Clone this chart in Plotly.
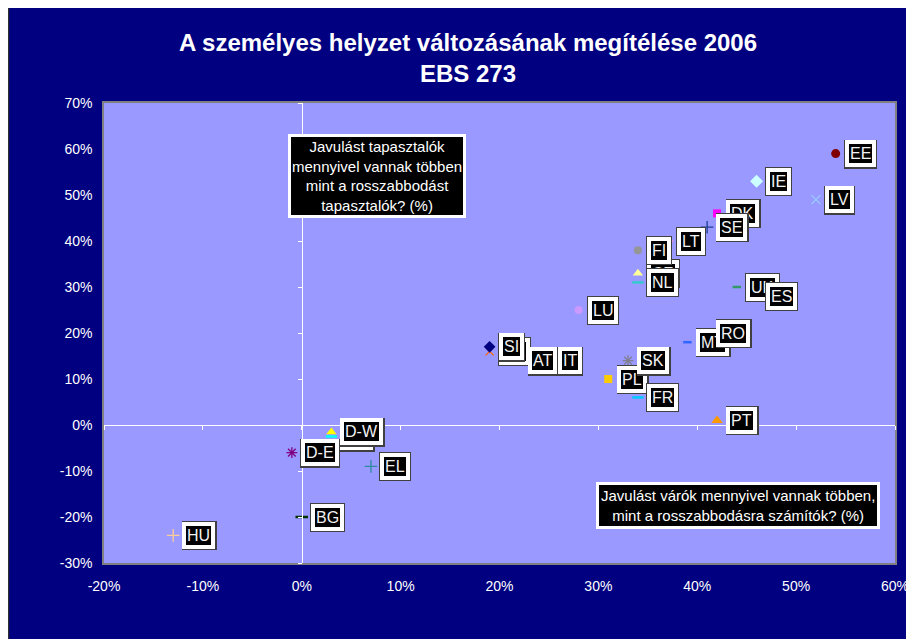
import plotly.graph_objects as go

# ---------------- data ----------------
countries = ["BE", "CZ", "CY", "DK", "SE", "EE", "IE", "LV", "LT", "FI", "NL", "LU",
             "SI", "AT", "IT", "PL", "SK", "FR", "MT", "RO", "UK", "ES", "PT",
             "D-W", "D-E", "EL", "BG", "HU"]
expect_balance = [19, 34, 3, 42, 41, 54, 46, 52, 37, 34, 34, 28,
                  19, 22, 25, 31, 33, 34, 39, 41, 44, 46, 42,
                  3, -1, 7, 0, -13]
experience_balance = [16, 33, -2.5, 46, 43, 59, 53, 49, 40, 38, 31, 25,
                      17, 14, 14, 10, 14, 6, 18, 20, 30, 28, 1,
                      -1.5, -6, -9, -20, -24]

x_ticks = [-20, -10, 0, 10, 20, 30, 40, 50, 60]
x_tick_labels = ["-20%", "-10%", "0%", "10%", "20%", "30%", "40%", "50%", "60%"]
y_ticks = [-30, -20, -10, 0, 10, 20, 30, 40, 50, 60, 70]
y_tick_labels = ["-30%", "-20%", "-10%", "0%", "10%", "20%", "30%", "40%", "50%", "60%", "70%"]

title_text = "A személyes helyzet változásának megítélése 2006<br>EBS 273"
note_top = "Javulást tapasztalók<br>mennyivel vannak többen<br>mint a rosszabbodást<br>tapasztalók? (%)"
note_bottom = "Javulást várók mennyivel vannak többen,<br>mint a rosszabbodásra számítók? (%)"

# ---------------- styles ----------------
marker_style = {
    "BE": ("x-thin-open", "#FF6600", 8),
    "CZ": ("triangle-up", "#FFFF99", 9),
    "CY": ("line-ew-open", "#00FFFF", 8),
    "DK": ("square", "#FF00FF", 8),
    "SE": ("cross-thin-open", "#1F3F8F", 9),
    "EE": ("circle", "#800000", 9),
    "IE": ("diamond", "#CCFFFF", 10),
    "LV": ("x-thin-open", "#99CCFF", 9),
    "LT": ("asterisk-open", "#FF99CC", 9),
    "FI": ("circle", "#969696", 8),
    "NL": ("line-ew-open", "#33CCCC", 8),
    "LU": ("circle", "#CC99FF", 8),
    "SI": ("diamond", "#000080", 9),
    "AT": ("triangle-up", "#99CC00", 9),
    "IT": ("circle", "#666699", 8),
    "PL": ("square", "#FFCC00", 8),
    "SK": ("asterisk-open", "#808090", 9),
    "FR": ("line-ew-open", "#00CCFF", 8),
    "MT": ("line-ew-open", "#3366FF", 6),
    "RO": ("circle", "#993366", 8),
    "UK": ("line-ew-open", "#339966", 6),
    "ES": ("circle", "#FF0000", 8),
    "PT": ("triangle-up", "#FF9900", 10),
    "D-W": ("triangle-up", "#FFFF00", 9),
    "D-E": ("asterisk-open", "#800080", 9),
    "EL": ("cross-thin-open", "#2E8B9F", 9),
    "BG": ("line-ew-open", "#003300", 9),
    "HU": ("cross-thin-open", "#FFCC99", 9),
}

FONT = "Liberation Sans, Arial, sans-serif"
# the page body adds an 8px offset; plot area in figure pixels
X0, X1, Y0, Y1 = 96, 887, 95, 555
W, H = 914, 639


def px_x(px):
    return (px - X0) / (X1 - X0)


def px_y(py):
    return (Y1 - py) / (Y1 - Y0)


fig = go.Figure()

for c, xv, yv in zip(countries, expect_balance, experience_balance):
    sym, col, size = marker_style[c]
    lw = 2.5 if sym.startswith("line") else (1.3 if "open" in sym else 0)
    fig.add_trace(go.Scatter(
        x=[xv], y=[yv], mode="markers", name=c, showlegend=False,
        marker=dict(symbol=sym, color=col, size=size,
                    line=dict(color=col, width=lw)),
        hoverinfo="skip"))

# dummy trace for the crossing axes
fig.add_trace(go.Scatter(x=[None], y=[None], xaxis="x2", yaxis="y2",
                         showlegend=False, hoverinfo="skip"))

annotations = []
for c, xv, yv in zip(countries, expect_balance, experience_balance):
    annotations.append(dict(
        x=xv, y=yv, xref="x", yref="y", text=c, showarrow=False,
        xanchor="left", yanchor="middle", xshift=8.5, yshift=-0.5,
        font=dict(family=FONT, size=16, color="#404040"),
        bgcolor="#404040", bordercolor="#404040", borderwidth=5, borderpad=1))
    annotations.append(dict(
        x=xv, y=yv, xref="x", yref="y", text=c, showarrow=False,
        xanchor="left", yanchor="middle", xshift=9,
        font=dict(family=FONT, size=16, color="#F2F2F2"),
        bgcolor="black", bordercolor="white", borderwidth=4, borderpad=1))

annotations.append(dict(
    x=px_x(376.5 - 8), y=px_y(175.5 - 8), xref="paper", yref="paper", text=note_top,
    showarrow=False, xanchor="center", yanchor="middle", align="center",
    font=dict(family=FONT, size=15, color="white"),
    bgcolor="black", bordercolor="white", borderwidth=3, borderpad=1))
annotations.append(dict(
    x=px_x(738 - 8), y=px_y(505 - 8), xref="paper", yref="paper", text=note_bottom,
    showarrow=False, xanchor="center", yanchor="middle", align="center",
    font=dict(family=FONT, size=15, color="white"),
    bgcolor="black", bordercolor="white", borderwidth=3, borderpad=2))

shapes = [
    dict(type="line", xref="paper", yref="paper", x0=px_x(0.5), x1=px_x(0.5),
         y0=px_y(H), y1=px_y(0), line=dict(color="#303030", width=1.5)),
]

tickfont = dict(family=FONT, size=14, color="white")

fig.update_layout(
    template="none",
    width=W, height=H, autosize=False,
    margin=dict(l=X0, r=W - X1, t=Y0, b=H - Y1, pad=0, autoexpand=False),
    paper_bgcolor="#000080", plot_bgcolor="#9999FF",
    title=dict(text=title_text, x=460 / W, xanchor="center", xref="container",
               y=1 - 43 / H, yanchor="middle", yref="container",
               font=dict(family=FONT, size=24, color="white", weight="bold")),
    xaxis=dict(range=[-20, 60], tickvals=x_ticks, ticktext=x_tick_labels,
               showgrid=False, zeroline=False, showline=True, mirror=True,
               linecolor="#808080", linewidth=1.5, ticks="", automargin=False,
               tickfont=tickfont, ticklabelstandoff=9),
    yaxis=dict(range=[-30, 70], tickvals=y_ticks, ticktext=y_tick_labels,
               showgrid=False, zeroline=False, showline=True, mirror=True,
               linecolor="#808080", linewidth=1.5, ticks="", automargin=False,
               tickfont=tickfont, ticklabelstandoff=7),
    xaxis2=dict(overlaying="x", anchor="free", position=0.3, range=[-20, 60],
                tickvals=x_ticks, showticklabels=False, showgrid=False,
                zeroline=False, showline=True, linecolor="white", linewidth=1,
                ticks="outside", ticklen=4, tickcolor="white", tickwidth=1,
                automargin=False),
    yaxis2=dict(overlaying="y", anchor="free", position=0.25, side="left",
                range=[-30, 70], tickvals=y_ticks, showticklabels=False,
                showgrid=False, zeroline=False, showline=True, linecolor="white",
                linewidth=1, ticks="outside", ticklen=4, tickcolor="white",
                tickwidth=1, automargin=False),
    annotations=annotations,
    shapes=shapes,
)

fig.write_html("out.html")
